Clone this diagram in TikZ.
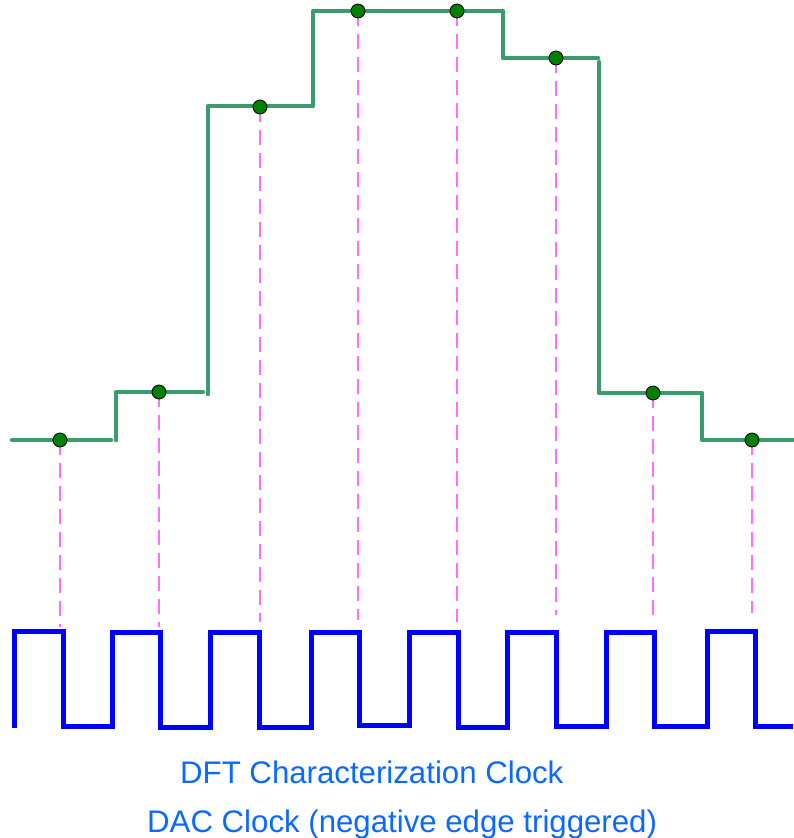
\documentclass[tikz,border=0pt]{standalone}
\usepackage{fontspec}
\setmainfont{Liberation Sans}
\definecolor{stepgreen}{RGB}{58,155,108}
\definecolor{dotgreen}{RGB}{0,128,0}
\definecolor{guidepink}{RGB}{255,110,255}
\definecolor{clkblue}{RGB}{0,0,255}
\definecolor{labelblue}{RGB}{10,105,255}
\begin{document}
\begin{tikzpicture}[x=1pt,y=-1pt,
  stair/.style={draw=stepgreen,line width=4.5pt,line cap=round,line join=round},
  clk/.style={draw=clkblue,line width=5pt,line join=miter},
  guide/.style={draw=guidepink,line width=2pt,dash pattern=on 15pt off 8pt},
  sample/.style={circle,fill=dotgreen,draw=black,line width=0.8pt,minimum size=14pt,inner sep=0pt},
  lbl/.style={text=labelblue,font=\fontsize{31.2}{33}\selectfont,anchor=base west,inner sep=0pt}]
\useasboundingbox (0,0) rectangle (793,838);
% guide lines (behind)
\foreach \n/\x/\y/\e in {a/60/440/627, b/159/392/627, c/260/107/622, d/358/11/620, e/457/11/622, f/556/58/615, g/653/393/617, h/752/440/613}{
  \coordinate (top\n) at (\x,\y);
  \coordinate (bot\n) at (\x,\e);
  \draw[guide] (top\n) -- (bot\n);
}
% staircase
\draw[stair] (12,440) -- (111,440);
\draw[stair] (116,440) -- (116,392) -- (203,392);
\draw[stair] (208,394) -- (208,106) -- (312,106);
\draw[stair] (313,106) -- (313,11) -- (503,11) -- (503,58) -- (598,58);
\draw[stair] (599,62) -- (599,393) -- (702,393) -- (702,440) -- (793,440);
% samples
\foreach \n in {a,b,c,d,e,f,g,h}{\node[sample] (s\n) at (top\n) {};}
% clock
\draw[clk] (14,728) -- (14,631) -- (63,631) -- (63,726) -- (112,726) -- (112,632) -- (160,632) -- (160,727) -- (210,727) -- (210,632) -- (259,632) -- (259,727) -- (311,727) -- (311,632) -- (359,632) -- (359,725) -- (409,725) -- (409,632) -- (458,632) -- (458,727) -- (507,727) -- (507,632) -- (556,632) -- (556,726) -- (606,726) -- (606,632) -- (654,632) -- (654,726) -- (707,726) -- (707,631) -- (755,631) -- (755,726) -- (793,726);
% labels
\node[lbl] (l1) at (180,783) {DFT Characterization Clock};
\node[lbl] (l2) at (147,832) {DAC Clock (negative edge triggered)};
\end{tikzpicture}
\end{document}
